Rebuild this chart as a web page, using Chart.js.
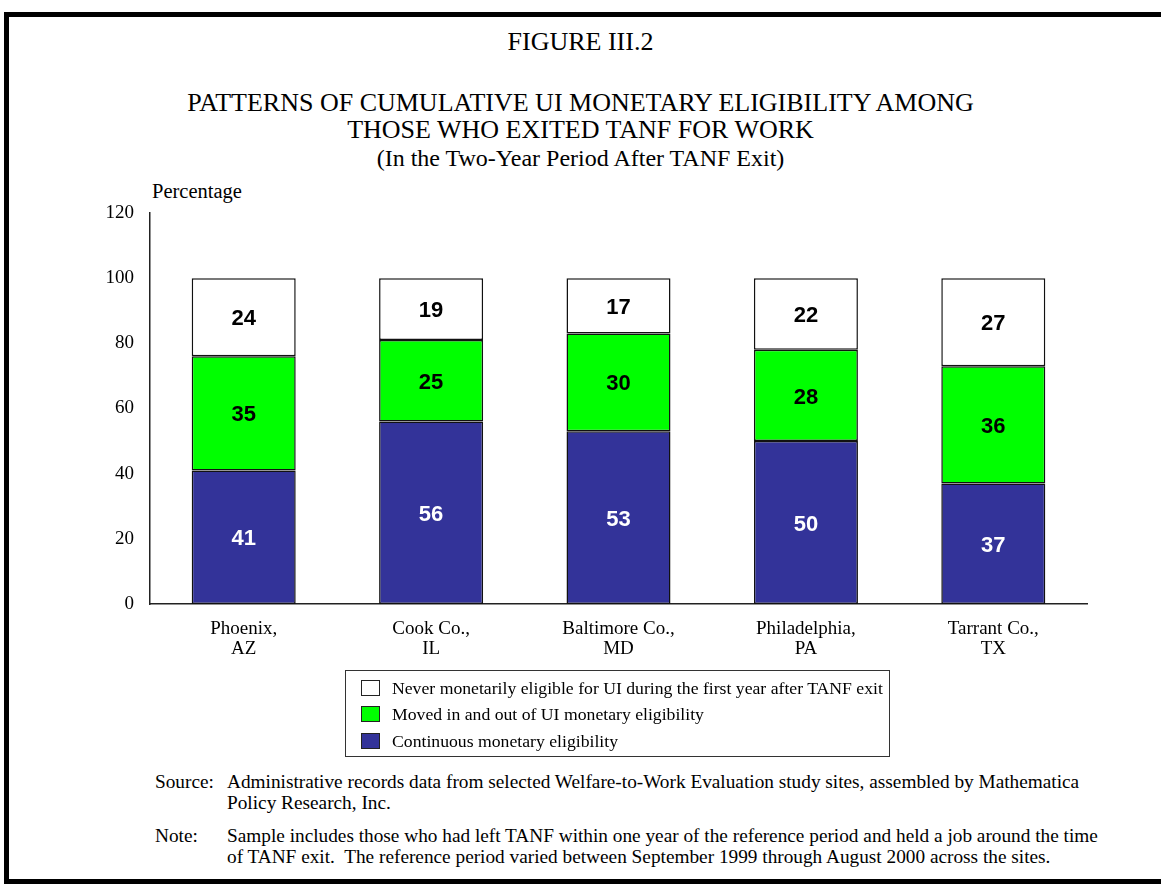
<!DOCTYPE html>
<html>
<head>
<meta charset="utf-8">
<script src="https://cdn.jsdelivr.net/npm/chart.js@4/dist/chart.umd.min.js"></script>
<style>
  html, body { margin: 0; padding: 0; background: #fff; }
  body { width: 1161px; height: 884px; position: relative; overflow: hidden; font-family: "Liberation Serif", "Times New Roman", serif; color: #000; }
  .frame { position: absolute; left: 4px; top: 12px; width: 1200px; height: 872px; box-sizing: border-box; border: 5px solid #000; }
  .t { position: absolute; left: 0; width: 1161px; text-align: center; white-space: nowrap; }
  .abs { position: absolute; white-space: nowrap; }
  #chart { position: absolute; left: 0; top: 0; }
  .legend { position: absolute; left: 345px; top: 670px; width: 545px; height: 87px; box-sizing: border-box; border: 1px solid #333; font-size: 17.7px; }
  .legend .row { position: absolute; left: 15px; height: 18px; line-height: 18px; white-space: nowrap; }
  .legend .sw { display: inline-block; width: 17px; height: 14px; border: 1px solid #222; vertical-align: -2px; margin-right: 12px; }
  .note { font-size: 19.3px; line-height: 19.3px; }
</style>
</head>
<body>
<div class="frame"></div>

<div class="t" style="top:29px; font-size:26px; line-height:26px;">FIGURE III.2</div>
<div class="t" style="top:90px; font-size:26px; line-height:26px;">PATTERNS OF CUMULATIVE UI MONETARY ELIGIBILITY AMONG</div>
<div class="t" style="top:117px; font-size:26px; line-height:26px;">THOSE WHO EXITED TANF FOR WORK</div>
<div class="t" style="top:146px; font-size:24px; line-height:24px;">(In the Two-Year Period After TANF Exit)</div>
<div class="abs" style="left:152px; top:181px; font-size:20.5px; line-height:20.5px;">Percentage</div>

<canvas id="chart" width="1161" height="700"></canvas>

<div class="legend">
  <div class="row" style="top:8px;"><span class="sw" style="background:#fff"></span>Never monetarily eligible for UI during the first year after TANF exit</div>
  <div class="row" style="top:34px;"><span class="sw" style="background:#00ff00"></span>Moved in and out of UI monetary eligibility</div>
  <div class="row" style="top:61px;"><span class="sw" style="background:#333399"></span>Continuous monetary eligibility</div>
</div>

<div class="abs note" style="left:155px; top:772px;">Source:</div>
<div class="abs note" style="left:227px; top:772px;">Administrative records data from selected Welfare-to-Work Evaluation study sites, assembled by Mathematica</div>
<div class="abs note" style="left:227px; top:793px;">Policy Research, Inc.</div>
<div class="abs note" style="left:155px; top:826px;">Note:</div>
<div class="abs note" style="left:227px; top:826px;">Sample includes those who had left TANF within one year of the reference period and held a job around the time</div>
<div class="abs note" style="left:227px; top:847px;">of TANF exit.&nbsp; The reference period varied between September 1999 through August 2000 across the sites.</div>

<script>
const sites = [["Phoenix,", "AZ"], ["Cook Co.,", "IL"], ["Baltimore Co.,", "MD"], ["Philadelphia,", "PA"], ["Tarrant Co.,", "TX"]]
const continuous = [41, 56, 53, 50, 37]
const movedInOut = [35, 25, 30, 28, 36]
const neverEligible = [24, 19, 17, 22, 27]
const yTicks = [0, 20, 40, 60, 80, 100, 120]

const serif = "'Liberation Serif', 'Times New Roman', serif"

// draw the numbers in the middle of every bar segment
const segmentLabels = {
  id: "segmentLabels",
  afterDatasetsDraw(chart) {
    const ctx = chart.ctx
    ctx.save()
    ctx.font = "bold 22px 'Liberation Sans', Arial, sans-serif"
    ctx.textAlign = "center"
    ctx.textBaseline = "middle"
    chart.data.datasets.forEach((ds, i) => {
      const meta = chart.getDatasetMeta(i)
      ctx.fillStyle = i === 0 ? "#ffffff" : "#000000"
      meta.data.forEach((bar, j) => {
        ctx.fillText(String(ds.data[j]), bar.x, (bar.y + bar.base) / 2 + 2)
      })
    })
    ctx.restore()
  }
}

const barStyle = {
  borderColor: "#111",
  borderWidth: 1.5,
  borderSkipped: false,
  categoryPercentage: 1,
  barPercentage: 0.555
}

new Chart(document.getElementById("chart"), {
  type: "bar",
  data: {
    labels: sites,
    datasets: [
      { label: "Continuous monetary eligibility", data: continuous, backgroundColor: "#333399", ...barStyle },
      { label: "Moved in and out of UI monetary eligibility", data: movedInOut, backgroundColor: "#00ff00", ...barStyle },
      { label: "Never monetarily eligible for UI during the first year after TANF exit", data: neverEligible, backgroundColor: "#ffffff", ...barStyle }
    ]
  },
  options: {
    responsive: false,
    animation: false,
    devicePixelRatio: 1,
    layout: { padding: { top: 213, right: 74, left: 0, bottom: 0 } },
    plugins: {
      legend: { display: false },
      tooltip: { enabled: false }
    },
    scales: {
      x: {
        stacked: true,
        grid: { display: false },
        border: { display: true, color: "#222", width: 1.5 },
        ticks: {
          color: "#000",
          font: { family: serif, size: 19, lineHeight: 1.05 },
          padding: 7,
          maxRotation: 0,
          autoSkip: false
        },
        afterFit: s => { s.height = 96 }
      },
      y: {
        stacked: true,
        min: 0,
        max: 120,
        afterBuildTicks: s => { s.ticks = yTicks.map(v => ({ value: v })) },
        grid: { display: false, drawTicks: false },
        border: { display: true, color: "#222", width: 1.5 },
        ticks: {
          color: "#000",
          font: { family: serif, size: 19 },
          padding: 16
        },
        afterFit: s => { s.width = 150 }
      }
    }
  },
  plugins: [segmentLabels]
})
</script>
</body>
</html>
